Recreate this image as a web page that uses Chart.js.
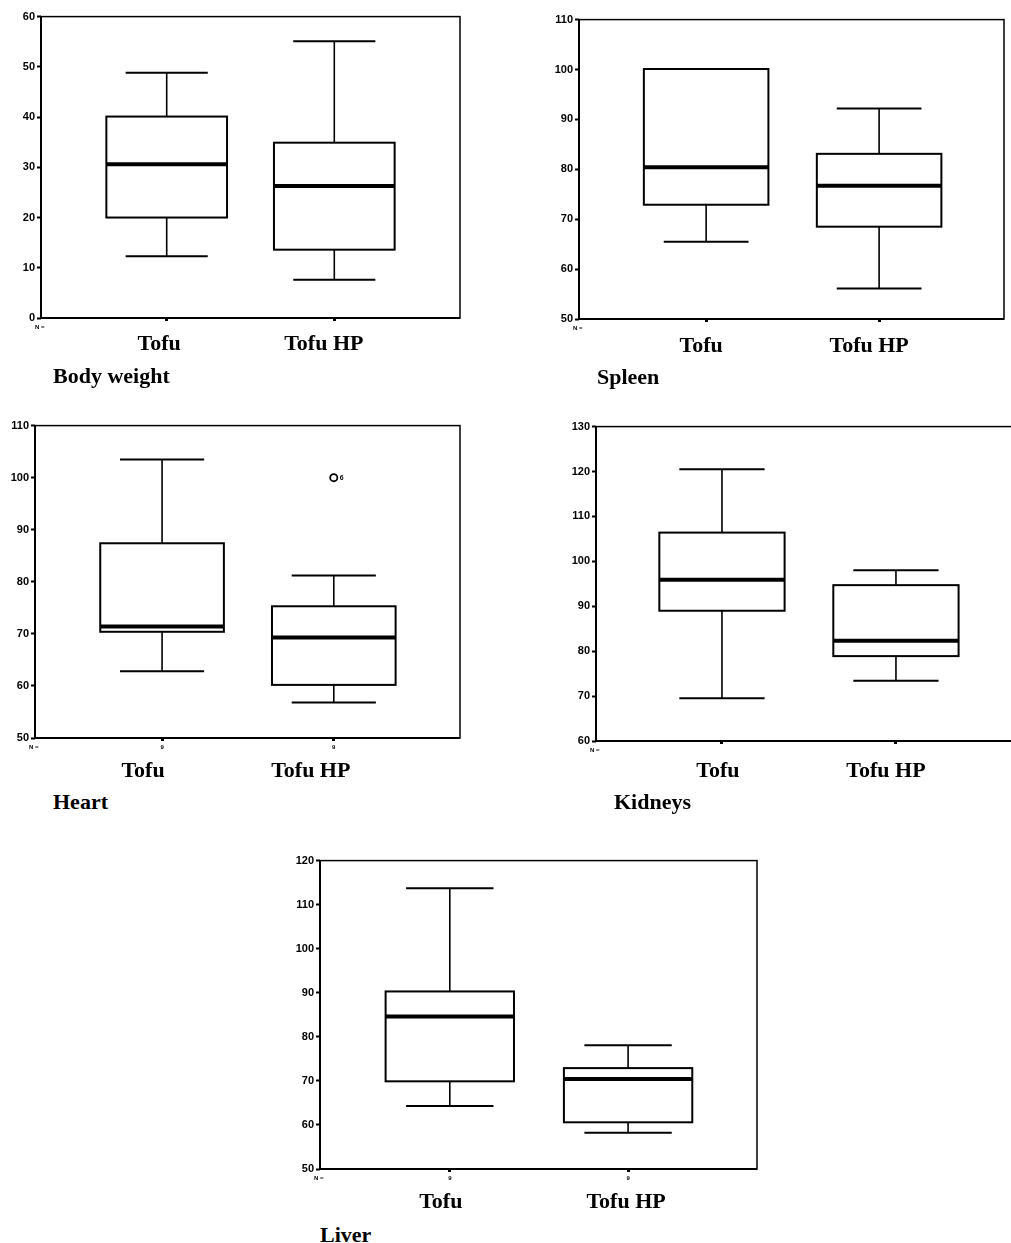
<!DOCTYPE html>
<html><head><meta charset="utf-8">
<script src="https://cdn.jsdelivr.net/npm/chart.js@4.4.1/dist/chart.umd.min.js"></script>
<style>
html,body{margin:0;padding:0;background:#fff;width:1011px;height:1243px;overflow:hidden;}
#page{position:relative;width:1011px;height:1243px;overflow:hidden;}
.panel{position:absolute;}
.ttl{position:absolute;font-family:"Liberation Serif","Times New Roman",serif;font-weight:bold;font-size:22px;line-height:22px;white-space:nowrap;color:#000;}
</style></head><body><div id="page"></div>
<script>
// ---- DATA ----
const categories = ['Tofu', 'Tofu HP'];
// each box: [lower whisker, Q1, median, Q3, upper whisker]
const bodyWeightTofu   = [12.3, 20.0, 30.6, 40.1, 48.8];
const bodyWeightTofuHP = [7.6, 13.6, 26.3, 34.9, 55.1];
const bodyWeightTicks  = [0, 10, 20, 30, 40, 50, 60];

const spleenTofu   = [65.5, 72.9, 80.4, 100.1, 100.1];
const spleenTofuHP = [56.1, 68.5, 76.7, 83.1, 92.2];
const spleenTicks  = [50, 60, 70, 80, 90, 100, 110];

const heartTofu   = [62.8, 70.4, 71.4, 87.4, 103.5];
const heartTofuHP = [56.8, 60.2, 69.3, 75.3, 81.2];
const heartTicks  = [50, 60, 70, 80, 90, 100, 110];
const heartOutlierCategory = ['Tofu HP'];
const heartOutlierValue    = [100.0];
const heartOutlierCase     = ['6'];
const heartN = ['9', '9'];

const kidneysTofu   = [69.5, 89.0, 95.9, 106.4, 120.5];
const kidneysTofuHP = [73.4, 78.9, 82.3, 94.7, 98.0];
const kidneysTicks  = [60, 70, 80, 90, 100, 110, 120, 130];

const liverTofu   = [64.3, 69.9, 84.6, 90.3, 113.7];
const liverTofuHP = [58.2, 60.6, 70.4, 72.9, 78.1];
const liverTicks  = [50, 60, 70, 80, 90, 100, 110, 120];
const liverN = ['9', '9'];

// ---- LAYOUT ----
const panels = [
  {title:'Body weight', boxes:[bodyWeightTofu, bodyWeightTofuHP], ticks:bodyWeightTicks, n:null,
   L:41, T:16, R:460, B:318, xMin:0.25, xMax:2.75, dx:[-7.5,-10.5], dy:32, tx:53, tb:383},
  {title:'Spleen', boxes:[spleenTofu, spleenTofuHP], ticks:spleenTicks, n:null,
   L:579, T:19, R:1004, B:319, xMin:0.265, xMax:2.722, dx:[-5,-10], dy:33, tx:597, tb:384},
  {title:'Heart', boxes:[heartTofu, heartTofuHP], ticks:heartTicks, n:heartN,
   outCat:heartOutlierCategory, outVal:heartOutlierValue, outCase:heartOutlierCase,
   L:35, T:425, R:460, B:738, xMin:0.26, xMax:2.735, dx:[-19,-23], dy:39, tx:53, tb:809},
  {title:'Kidneys', boxes:[kidneysTofu, kidneysTofuHP], ticks:kidneysTicks, n:null,
   L:596, T:426, R:1016, B:741, xMin:0.276, xMax:2.69, dx:[-4,-10], dy:36, tx:614, tb:809},
  {title:'Liver', boxes:[liverTofu, liverTofuHP], ticks:liverTicks, n:liverN,
   L:320, T:860, R:757, B:1169, xMin:0.272, xMax:2.723, dx:[-9,-2], dy:39, tx:320, tb:1242}
];

const YW = 40, PT = 8, PR = 8, XH = 50;
const BOX_HALF = 0.36, CAP_HALF = 0.245;

const boxPlugin = {
  id: 'boxes',
  beforeDatasetsDraw(chart) {
    const p = chart.options.plugins.boxes.panel;
    const xs = chart.scales.x, ys = chart.scales.y, ctx = chart.ctx;
    ctx.save();
    ctx.strokeStyle = '#000';
    p.boxes.forEach((s, i) => {
      const xv = i + 1;
      const xc = xs.getPixelForValue(xv);
      const x0 = xs.getPixelForValue(xv - BOX_HALF), x1 = xs.getPixelForValue(xv + BOX_HALF);
      const c0 = xs.getPixelForValue(xv - CAP_HALF), c1 = xs.getPixelForValue(xv + CAP_HALF);
      const yMin = ys.getPixelForValue(s[0]), yQ1 = ys.getPixelForValue(s[1]),
            yMed = ys.getPixelForValue(s[2]), yQ3 = ys.getPixelForValue(s[3]),
            yMax = ys.getPixelForValue(s[4]);
      // whiskers
      ctx.lineWidth = 1.6;
      ctx.beginPath();
      ctx.moveTo(xc, yQ3); ctx.lineTo(xc, yMax);
      ctx.moveTo(xc, yQ1); ctx.lineTo(xc, yMin);
      ctx.stroke();
      ctx.lineWidth = 2;
      ctx.beginPath();
      if (s[4] > s[3]) { ctx.moveTo(c0, yMax); ctx.lineTo(c1, yMax); }
      if (s[0] < s[1]) { ctx.moveTo(c0, yMin); ctx.lineTo(c1, yMin); }
      ctx.stroke();
      // box
      ctx.fillStyle = '#fff';
      ctx.fillRect(x0, yQ3, x1 - x0, yQ1 - yQ3);
      ctx.lineWidth = 2;
      ctx.strokeRect(x0, yQ3, x1 - x0, yQ1 - yQ3);
      // median
      ctx.lineWidth = 4;
      ctx.beginPath();
      ctx.moveTo(x0, yMed); ctx.lineTo(x1, yMed);
      ctx.stroke();
    });
    ctx.restore();
  },
  afterDraw(chart) {
    const p = chart.options.plugins.boxes.panel;
    const xs = chart.scales.x, ys = chart.scales.y, ctx = chart.ctx;
    const a = chart.chartArea;
    ctx.save();
    ctx.strokeStyle = '#000';
    // frame
    ctx.lineWidth = 1.5;
    ctx.strokeRect(a.left, a.top, a.right - a.left, a.bottom - a.top);
    ctx.lineWidth = 2;
    ctx.beginPath();
    ctx.moveTo(a.left, a.top); ctx.lineTo(a.left, a.bottom); ctx.lineTo(a.right, a.bottom);
    ctx.stroke();
    // N =
    ctx.fillStyle = '#000';
    ctx.font = 'bold 6px "Liberation Sans", Arial, sans-serif';
    ctx.textAlign = 'left'; ctx.textBaseline = 'middle';
    ctx.fillText('N =', a.left - 6, a.bottom + 9);
    if (p.n) {
      ctx.textAlign = 'center';
      p.n.forEach((t, i) => ctx.fillText(t, xs.getPixelForValue(i + 1), a.bottom + 9));
    }
    // outlier case labels
    if (p.outVal) {
      ctx.font = 'bold 7px "Liberation Sans", Arial, sans-serif';
      ctx.textAlign = 'left';
      p.outVal.forEach((v, k) => {
        const xv = categories.indexOf(p.outCat[k]) + 1;
        ctx.fillText(p.outCase[k], xs.getPixelForValue(xv) + 6, ys.getPixelForValue(v));
      });
    }
    // category labels
    ctx.font = 'bold 22px "Liberation Serif", "Times New Roman", serif';
    ctx.textAlign = 'center'; ctx.textBaseline = 'alphabetic';
    categories.forEach((c, i) => {
      ctx.fillText(c, xs.getPixelForValue(i + 1) + p.dx[i], a.bottom + p.dy);
    });
    ctx.restore();
  }
};

const page = document.getElementById('page');
panels.forEach(p => {
  const cw = p.R - p.L + YW + PR, ch = p.B - p.T + PT + XH;
  const div = document.createElement('div');
  div.className = 'panel';
  div.style.left = (p.L - YW) + 'px';
  div.style.top = (p.T - PT) + 'px';
  div.style.width = cw + 'px';
  div.style.height = ch + 'px';
  const cv = document.createElement('canvas');
  cv.width = cw; cv.height = ch;
  cv.style.width = cw + 'px'; cv.style.height = ch + 'px';
  div.appendChild(cv);
  page.appendChild(div);

  const t = document.createElement('div');
  t.className = 'ttl';
  t.textContent = p.title;
  t.style.left = p.tx + 'px';
  t.style.top = (p.tb - 18.4) + 'px';
  page.appendChild(t);

  const datasets = [];
  if (p.outVal) {
    datasets.push({
      data: p.outVal.map((v, k) => ({x: categories.indexOf(p.outCat[k]) + 1, y: v})),
      pointRadius: 3.6, pointBorderWidth: 1.8,
      pointBackgroundColor: '#fff', pointBorderColor: '#000', showLine: false
    });
  }
  const yt = p.ticks;
  new Chart(cv, {
    type: 'scatter',
    data: {datasets},
    options: {
      responsive: false, animation: false, events: [],
      layout: {padding: {left: 0, top: PT, right: PR, bottom: 0}},
      plugins: {legend: {display: false}, tooltip: {enabled: false}, title: {display: false},
                boxes: {panel: p}},
      scales: {
        x: {
          type: 'linear', min: p.xMin, max: p.xMax,
          afterBuildTicks: s => { s.ticks = categories.map((c, i) => ({value: i + 1})); },
          afterFit: s => { s.height = XH; },
          ticks: {display: false},
          border: {display: false},
          grid: {display: true, drawOnChartArea: false, drawTicks: true, tickLength: 3,
                 tickWidth: 3, tickColor: '#000', color: '#000'}
        },
        y: {
          type: 'linear', min: yt[0], max: yt[yt.length - 1],
          afterBuildTicks: s => { s.ticks = yt.map(v => ({value: v})); },
          afterFit: s => { s.width = YW; },
          ticks: {color: '#000', padding: 2,
                  font: {family: '"Liberation Sans", Arial, sans-serif', size: 11, weight: 'bold'}},
          border: {display: false},
          grid: {display: true, drawOnChartArea: false, drawTicks: true, tickLength: 4,
                 tickWidth: 2, tickColor: '#000', color: '#000'}
        }
      }
    },
    plugins: [boxPlugin]
  });
});
</script>
</body></html>
